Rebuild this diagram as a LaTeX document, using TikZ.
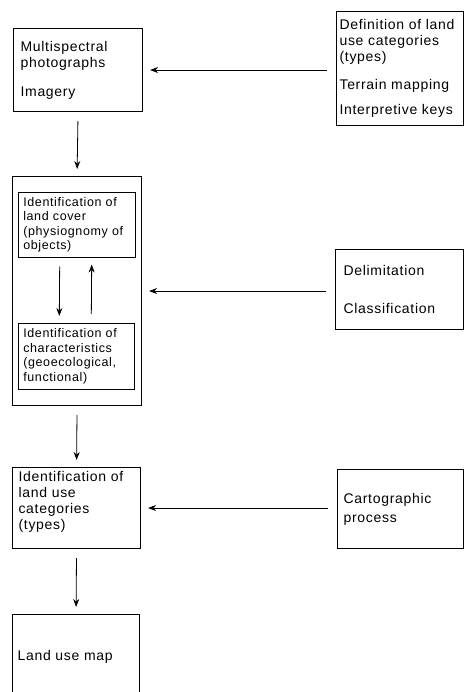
\documentclass[tikz,border=0pt]{standalone}
\usepackage{fontspec}
\setmainfont{Liberation Sans}[LetterSpace=5.0]
\usetikzlibrary{arrows.meta}

\begin{document}
\begin{tikzpicture}[x=1pt,y=-1pt,
    box/.style={draw, line width=1.1pt, anchor=north west, align=left,
      inner ysep=0pt, font=\fontsize{14}{16}\selectfont},
    subbox/.style={draw, line width=0.5pt, anchor=north west, align=left,
      inner xsep=5pt, inner ysep=0pt, font=\fontsize{12.5}{14.5}\selectfont},
    flow/.style={-{Stealth[length=8pt,width=6pt]}, line width=0.8pt,
      shorten >=7pt, shorten <=9pt}]
  \useasboundingbox (0,0) rectangle (465,692);
  \draw
    (13,28) node[box, inner xsep=7pt, minimum width=129pt, minimum height=83pt, text width=115pt] (photo){Multispectral\\photographs\\[13pt]Imagery}
    (336,11) node[box, inner xsep=3pt, minimum width=127pt, minimum height=114pt, text width=121pt] (defs){Definition of land\\use categories\\(types)\\[12pt]Terrain mapping\\[9pt]Interpretive keys}
    (12,176) node[box, minimum width=129pt, minimum height=229pt] (interp){}
    (18,192) node[subbox, minimum width=117pt, minimum height=65pt, text width=107pt] (cover){Identification of\\land cover\\(physiognomy of\\objects)}
    (18,323) node[subbox, minimum width=116pt, minimum height=66pt, text width=106pt] (chars){Identification of\\characteristics\\(geoecological,\\functional)}
    (335,249) node[box, inner xsep=8pt, minimum width=128pt, minimum height=80pt, text width=112pt] (delim){Delimitation\\[22pt]Classification}
    (12,467) node[box, inner xsep=6pt, minimum width=128pt, minimum height=81pt, text width=116pt, text depth=63pt] (categ){Identification of\\land use\\categories\\(types)}
    (337,469) node[box, inner xsep=6pt, minimum width=126pt, minimum height=79pt, text width=114pt] (carto){Cartographic\\[3pt]process}
    (12,614) node[box, inner xsep=5pt, minimum width=127pt, minimum height=84pt, text width=117pt] (lumap){Land use map};
  \begin{scope}[flow]
    \draw (defs.west |- photo.east) to (photo.east);
    \draw (delim.west |- interp.east) to (interp.east);
    \draw (carto.west |- categ.east) to (categ.east);
    \draw (photo.south) to (interp.north);
    \draw (interp.south) to (categ.north);
    \draw (categ.south) to (lumap.north);
    \draw ([xshift=-17pt]cover.south) to ([xshift=-17pt]chars.north);
    \draw ([xshift=15pt]chars.north) to ([xshift=15pt]cover.south);
  \end{scope}
\end{tikzpicture}
\end{document}
